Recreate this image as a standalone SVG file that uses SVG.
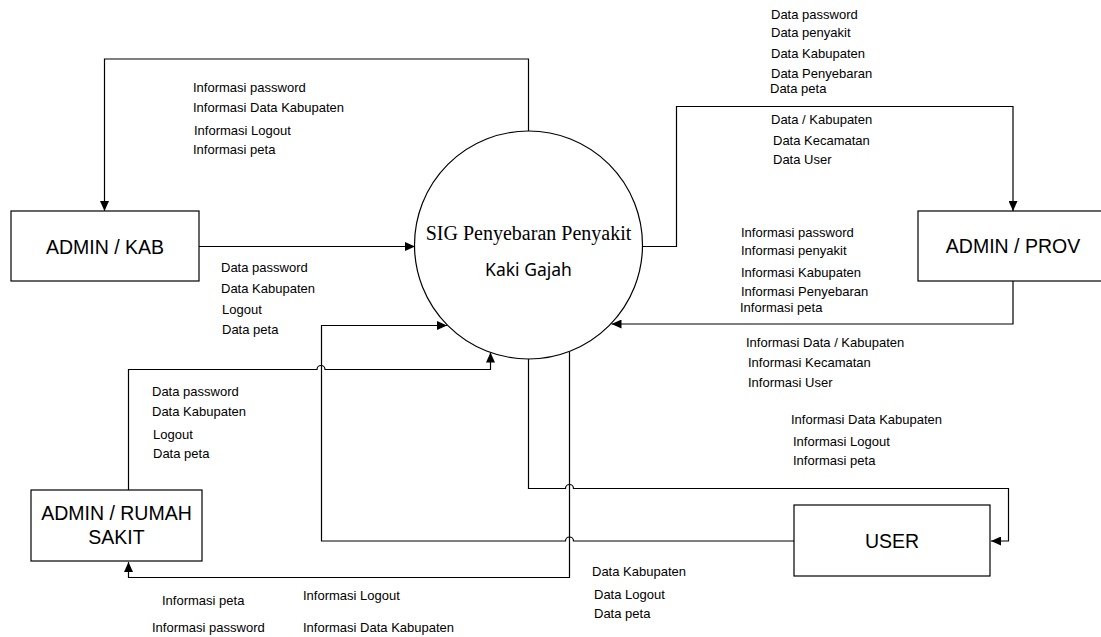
<svg xmlns="http://www.w3.org/2000/svg" width="1101" height="637" viewBox="0 0 1101 637">
<style>
.box{fill:#fff;stroke:#000;stroke-width:1.2}
.bt{font-family:"Liberation Sans",Arial,sans-serif;font-size:19.5px;fill:#000;text-anchor:middle}
.lb{font-family:"Liberation Sans",Arial,sans-serif;font-size:13px;fill:#000}
.ln{fill:none;stroke:#000;stroke-width:1.2;marker-end:url(#ah)}
</style>
<defs>
<marker id="ah" markerUnits="userSpaceOnUse" markerWidth="11" markerHeight="9" refX="10" refY="4.5" orient="auto">
<path d="M0,0 L10,4.5 L0,9 z" fill="#000"/>
</marker>
</defs>
<rect width="1101" height="637" fill="#fff"/>
<g id="connectors">
<path class="ln" d="M528.5,131 V59 H104.5 V211"/>
<path class="ln" d="M199,246.5 H415"/>
<path class="ln" d="M642,246.5 H676.5 V106.5 H1013 V211"/>
<path class="ln" d="M1013,281 V324 H611.5"/>
<path class="ln" d="M128.5,490 V369.5 H317 A4,4 0 0 1 325,369.5 H490.5 V352.5"/>
<path class="ln" d="M794,541 H573.5 A4,4 0 0 0 565.5,541 H321.5 V325.5 H447"/>
<path class="ln" d="M528.5,359 V488.5 H565.5 A4,4 0 0 1 573.5,488.5 H1008.5 V541 H991"/>
<path class="ln" d="M569.5,352 V577.5 H128.5 V562"/>
</g>
<g id="process">
<circle cx="528.5" cy="245" r="114" fill="#fff" stroke="#000" stroke-width="1.2"/>
<text x="528.5" y="240" text-anchor="middle" font-family="Liberation Serif,'Times New Roman',serif" font-size="20" fill="#000">SIG Penyebaran Penyakit</text>
<text x="528.5" y="276" text-anchor="middle" font-family="'Noto Sans',sans-serif" font-size="17.5" fill="#000">Kaki Gajah</text>
</g>
<g id="admin-kab">
<rect class="box" x="11" y="211" width="188" height="70"/>
<text class="bt" x="105" y="254">ADMIN / KAB</text>
</g>
<g id="admin-prov">
<rect class="box" x="918" y="211" width="190" height="70"/>
<text class="bt" x="1013" y="253">ADMIN / PROV</text>
</g>
<g id="admin-rumah-sakit">
<rect class="box" x="31" y="490" width="171" height="71"/>
<text class="bt" x="116.5" y="520">ADMIN / RUMAH</text>
<text class="bt" x="116.5" y="544">SAKIT</text>
</g>
<g id="user">
<rect class="box" x="794" y="505" width="196" height="71"/>
<text class="bt" x="892" y="548">USER</text>
</g>
<g id="labels">
<text class="lb" x="193" y="92">Informasi password</text>
<text class="lb" x="193" y="112">Informasi Data Kabupaten</text>
<text class="lb" x="194" y="135">Informasi Logout</text>
<text class="lb" x="193" y="154">Informasi peta</text>
<text class="lb" x="771" y="19">Data password</text>
<text class="lb" x="771" y="37">Data penyakit</text>
<text class="lb" x="771" y="58">Data Kabupaten</text>
<text class="lb" x="771" y="78">Data Penyebaran</text>
<text class="lb" x="770" y="93">Data peta</text>
<text class="lb" x="771" y="124">Data / Kabupaten</text>
<text class="lb" x="773" y="145">Data Kecamatan</text>
<text class="lb" x="773" y="164">Data User</text>
<text class="lb" x="741" y="237">Informasi password</text>
<text class="lb" x="741" y="255">Informasi penyakit</text>
<text class="lb" x="741" y="277">Informasi Kabupaten</text>
<text class="lb" x="741" y="296">Informasi Penyebaran</text>
<text class="lb" x="740" y="312">Informasi peta</text>
<text class="lb" x="746" y="347">Informasi Data / Kabupaten</text>
<text class="lb" x="748" y="367">Informasi Kecamatan</text>
<text class="lb" x="748" y="387">Informasi User</text>
<text class="lb" x="221" y="272">Data password</text>
<text class="lb" x="221" y="293">Data Kabupaten</text>
<text class="lb" x="222" y="314">Logout</text>
<text class="lb" x="222" y="334">Data peta</text>
<text class="lb" x="152" y="396">Data password</text>
<text class="lb" x="152" y="416">Data Kabupaten</text>
<text class="lb" x="153" y="439">Logout</text>
<text class="lb" x="153" y="458">Data peta</text>
<text class="lb" x="791" y="424">Informasi Data Kabupaten</text>
<text class="lb" x="793" y="446">Informasi Logout</text>
<text class="lb" x="793" y="465">Informasi peta</text>
<text class="lb" x="592" y="576">Data Kabupaten</text>
<text class="lb" x="594" y="599">Data Logout</text>
<text class="lb" x="594" y="618">Data peta</text>
<text class="lb" x="162" y="605">Informasi peta</text>
<text class="lb" x="152" y="632">Informasi password</text>
<text class="lb" x="303" y="600">Informasi Logout</text>
<text class="lb" x="303" y="632">Informasi Data Kabupaten</text>
</g>
</svg>
